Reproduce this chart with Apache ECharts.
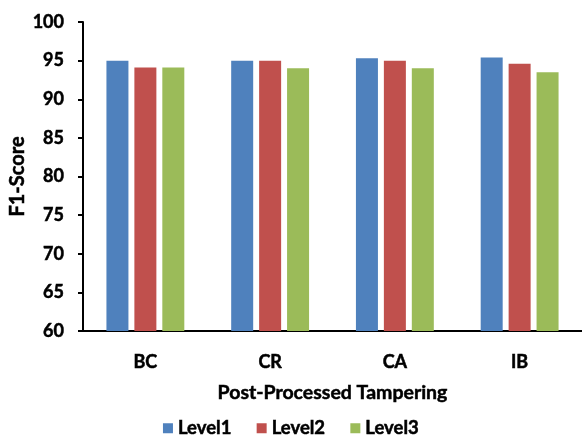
<!DOCTYPE html>
<html>
<head>
<meta charset="utf-8">
<script src="https://cdn.jsdelivr.net/npm/echarts@6/dist/echarts.min.js"></script>
<style>html,body{margin:0;padding:0;background:#fff;}#c{width:582px;height:435px;}</style>
</head>
<body>
<div id="c"></div>
<script>
const categories = ['BC', 'CR', 'CA', 'IB'];
const level1 = [95.0, 95.0, 95.3, 95.4];
const level2 = [94.1, 95.0, 95.0, 94.6];
const level3 = [94.1, 94.0, 94.0, 93.5];
const seriesNames = ['Level1', 'Level2', 'Level3'];
const colors = ['#4F81BD', '#C0504D', '#9BBB59'];

const font = 'Lato, "Open Sans", sans-serif';
const heavy = {fontFamily: font, fontWeight: 'bold', color: '#000', textBorderColor: '#000', textBorderWidth: 0.5};
const chart = echarts.init(document.getElementById('c'), null, {renderer: 'canvas'});
const data = [level1, level2, level3];
chart.setOption({
  animation: false,
  textStyle: {fontFamily: font},
  grid: {left: 83, right: 0, top: 22, bottom: 104, containLabel: false, outerBoundsMode: 'none'},
  legend: {
    data: seriesNames,
    bottom: -8,
    left: 'center',
    itemWidth: 10, itemHeight: 10, itemGap: 25,
    icon: 'rect',
    textStyle: Object.assign({fontSize: 18.5}, heavy)
  },
  xAxis: {
    type: 'category',
    data: categories,
    name: 'Post-Processed Tampering',
    nameLocation: 'middle',
    nameGap: 52,
    nameMoveOverlap: false,
    nameTextStyle: Object.assign({fontSize: 19.5}, heavy),
    axisLine: {lineStyle: {color: '#000', width: 2}},
    axisTick: {show: false},
    axisLabel: Object.assign({margin: 22, fontSize: 18}, heavy)
  },
  yAxis: {
    type: 'value',
    min: 60, max: 100, interval: 5,
    name: 'F1-Score',
    nameLocation: 'middle',
    nameGap: 55,
    nameMoveOverlap: false,
    nameTextStyle: Object.assign({fontSize: 20}, heavy),
    axisLine: {show: true, lineStyle: {color: '#000', width: 2}},
    axisTick: {show: true, length: 5, lineStyle: {color: '#000', width: 2}},
    splitLine: {show: false},
    axisLabel: Object.assign({margin: 19, fontSize: 18}, heavy)
  },
  series: seriesNames.map((n, i) => ({
    name: n,
    type: 'bar',
    data: data[i],
    barWidth: 22,
    barGap: '27%',
    itemStyle: {color: colors[i]}
  }))
});
</script>
</body>
</html>
